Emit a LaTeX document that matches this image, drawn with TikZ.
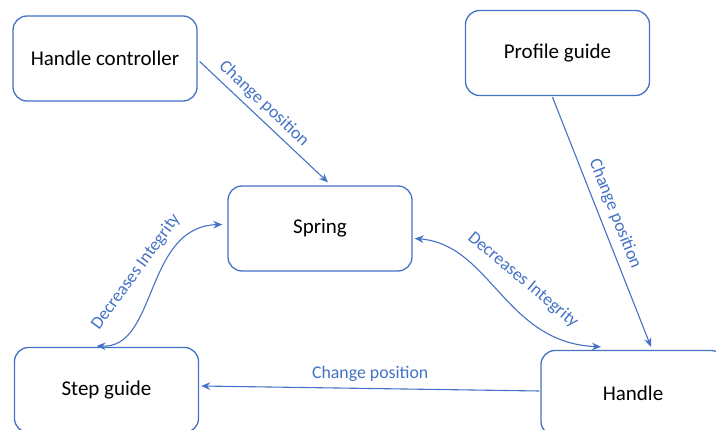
\documentclass[tikz,border=0pt]{standalone}
\usepackage{fontspec}
\setmainfont{Carlito}
\usetikzlibrary{arrows.meta,calc}
\definecolor{officeblue}{HTML}{4472C4}
\begin{document}
\begin{tikzpicture}[x=1pt,y=-1pt,
  box/.style={draw=officeblue, line width=1.3pt, rounded corners=14pt,
    minimum width=184pt, minimum height=85pt, inner sep=0pt,
    font=\fontsize{21}{25}\selectfont, text=black},
  tip/.tip={Stealth[length=9pt,width=7.5pt]},
  link/.style={draw=officeblue, line width=1.1pt, -tip},
  both/.style={draw=officeblue, line width=1.1pt, tip-tip},
  lbl/.style={text=officeblue, font=\fontsize{17.8}{20}\selectfont, inner sep=2pt}]
\useasboundingbox (0,0) rectangle (716,430);
\clip (0,0) rectangle (716,430);

% components
\node[box] (hc)     at (105,58.5)  {Handle controller};
\node[box] (pg)     at (557.5,53)  {Profile guide};
\node[box] (spring) at (320,228.5) {Spring};
\node[box] (step)   at (106.5,390) {Step guide};
\node[box] (handle) at (633,393)   {Handle};

% position changes
\draw[link] ($(hc.east)+(2,3)$)
  -- node[lbl, sloped, above=3pt, pos=0.43] (l1) {Change position}
  ($(spring.north)+(8,-3)$);
\draw[link] ($(pg.south)+(-5,1)$)
  -- node[lbl, sloped, above=5pt, pos=0.49] (l2) {Change position}
  ($(handle.north)+(18,-3)$);
\draw[link] ($(handle.west)+(-1,-2)$)
  -- node[lbl, above=4pt, pos=0.5] (l3) {Change position}
  ($(step.east)+(2,-4)$);

% integrity effects
\draw[both] ($(spring.west)+(-5,-4)$)
  .. controls +(-78,2) and +(61,3) .. ($(step.north)+(-10,-1)$);
\node[lbl, rotate=54] (l4) at (136,272) {Decreases Integrity};
\draw[both] ($(spring.east)+(2,10)$)
  .. controls +(76,6) and +(-96,-4) .. ($(handle.north)+(-32,-3)$);
\node[lbl, rotate=-40] (l5) at (523,280) {Decreases Integrity};
\end{tikzpicture}
\end{document}
